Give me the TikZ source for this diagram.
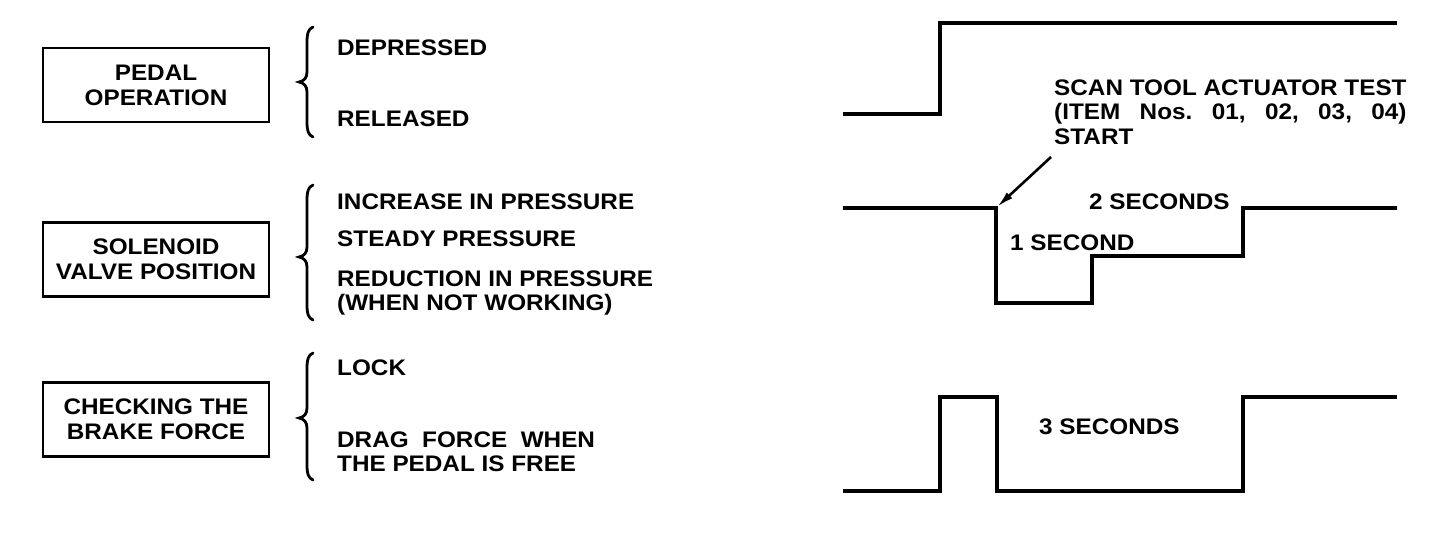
\documentclass[tikz,border=0pt]{standalone}
\usepackage{fontspec}
\newfontfamily\diag{Liberation Sans}[FakeStretch=1.08]
\usetikzlibrary{arrows.meta}
\newlength\scanw
\newcommand\cbrace[3]{%
  \draw[bracestyle] (313,#1) .. controls (308,#1+2) and (307,#1+7) .. (307,#1+15)
    -- (307,#2-10) .. controls (307,#2-4) and (304,#2-1) .. (299,#2)
    .. controls (304,#2+1) and (307,#2+4) .. (307,#2+10)
    -- (307,#3-15) .. controls (307,#3-7) and (308,#3-2) .. (313,#3);}
\begin{document}
\begin{tikzpicture}[x=1pt,y=-1pt,
  lbl/.style={font=\diag\bfseries\fontsize{22.5}{24.5}\selectfont\frenchspacing, inner sep=0pt, anchor=base west, align=left},
  catbox/.style={draw, line width=2.6pt, minimum width=226pt, minimum height=74pt, inner sep=0pt, align=center,
    font=\diag\bfseries\fontsize{22.5}{25}\selectfont},
  wave/.style={line width=3.4pt, line join=miter},
  bracestyle/.style={line width=2.8pt, line cap=round},
  ptr/.style={line width=2.6pt, -{Latex[length=17pt,width=8pt]}}]
\fill[white] (0,0) rectangle (1456,536);
\useasboundingbox (0,0) rectangle (1456,536);

% category boxes
\node[catbox] (pedal) at (156,85) {PEDAL\\OPERATION};
\node[catbox] (sol) at (156,259.5) {SOLENOID\\VALVE POSITION};
\node[catbox] (brake) at (156,419.5) {CHECKING THE\\BRAKE FORCE};

% braces
\cbrace{27}{82}{137}
\cbrace{185}{257}{320}
\cbrace{353}{418}{480}

% state labels (base anchor = baseline of last line)
\node[lbl] (dep) at (337,55) {DEPRESSED};
\node[lbl] (rel) at (337,126) {RELEASED};
\node[lbl] (inc) at (337,209) {INCREASE IN PRESSURE};
\node[lbl] (ste) at (337,246) {STEADY PRESSURE};
\node[lbl] (red) at (337,310.5) {REDUCTION IN PRESSURE\\(WHEN NOT WORKING)};
\node[lbl] (lock) at (337,375) {LOCK};
\node[lbl] (drag) at (337,471.5) {DRAG\ \ FORCE\ \ WHEN\\THE PEDAL IS FREE};

% waveforms
\draw[wave] (843,114) -- (940,114) -- (940,23) -- (1397,23);
\draw[wave] (843,208) -- (996,208) -- (996,303) -- (1092,303) -- (1092,256) -- (1243,256) -- (1243,208) -- (1397,208);
\draw[wave] (843,491) -- (940,491) -- (940,397) -- (997,397) -- (997,491) -- (1243,491) -- (1243,397) -- (1397,397);

% annotations
\node[lbl, font=\diag\bfseries\fontsize{22.5}{24.5}\selectfont\frenchspacing\settowidth{\scanw}{SCAN TOOL ACTUATOR TEST}] (scan) at (1054,144)
  {SCAN TOOL ACTUATOR TEST\\\makebox[\scanw][s]{(ITEM Nos. 01, 02, 03, 04)}\\START};
\coordinate (astart) at (1051,157);
\coordinate (aend) at (997,207);
\draw[ptr] (astart) -- (aend);
\node[lbl] (two) at (1089,209) {2 SECONDS};
\node[lbl] (one) at (1010,250) {1 SECOND};
\node[lbl] (three) at (1039,434) {3 SECONDS};
\end{tikzpicture}
\end{document}
